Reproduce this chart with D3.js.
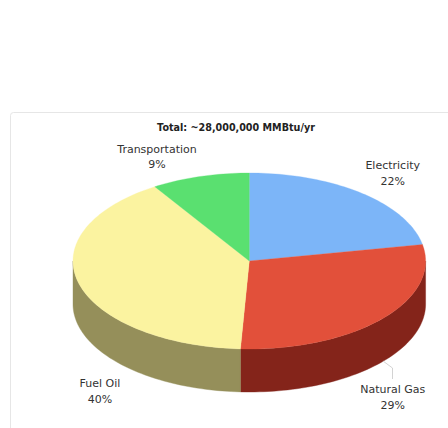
<!DOCTYPE html>
<html><head><meta charset="utf-8">
<script src="https://cdnjs.cloudflare.com/ajax/libs/d3/7.8.5/d3.min.js"></script>
<style>html,body{margin:0;padding:0;background:#fff}svg{display:block}text{font-family:"DejaVu Sans",sans-serif}</style>
</head><body><div id="c"></div>
<script>
const categories = ["Electricity","Natural Gas","Fuel Oil","Transportation"];
const shares = [22,28.8,40.2,9];
const topColors = ["#7cb5f8","#e2503a","#fbf3a0","#5ae070"];
const sideColors = ["#4a6d95","#84241a","#958f5a","#36864a"];
const titleText = "Total: ~28,000,000 MMBtu/yr";
const W=448,H=428,cx=249.3,cy=261,rx=176.3,ry=88,depth=43;
const svg=d3.select("#c").append("svg").attr("width",W).attr("height",H);
svg.append("rect").attr("x",10.5).attr("y",112.5).attr("width",W+20).attr("height",H)
  .attr("rx",3).attr("fill","#fff").attr("stroke","#e6e6e6");
svg.append("text").attr("x",236).attr("y",131).attr("text-anchor","middle")
  .attr("font-size",9.6).attr("font-weight","bold").attr("fill","#222").text(titleText);
const arcs=d3.pie().sort(null)(shares);
const sx=d3.scaleLinear().domain([-1,1]).range([cx-rx,cx+rx]);
const sy=d3.scaleLinear().domain([-1,1]).range([cy-ry,cy+ry]);
const px=a=>sx(Math.sin(a)), py=a=>sy(-Math.cos(a));
const lo=Math.PI/2, hi=1.5*Math.PI;
arcs.forEach((d,i)=>{
  const a0=Math.max(d.startAngle,lo), a1=Math.min(d.endAngle,hi);
  if(a1<=a0) return;
  const ts=d3.range(0,61).map(k=>a0+(a1-a0)*k/60);
  const pts=ts.map(a=>[px(a),py(a)]).concat(ts.slice().reverse().map(a=>[px(a),py(a)+depth]));
  svg.append("path").attr("d",d3.line()(pts)+"Z").attr("fill",sideColors[i]).attr("stroke",sideColors[i]).attr("stroke-width",0.4);
});
arcs.forEach((d,i)=>{
  const n=Math.max(2,Math.ceil((d.endAngle-d.startAngle)*40));
  const pts=[[cx,cy]].concat(d3.range(0,n+1).map(k=>{const a=d.startAngle+(d.endAngle-d.startAngle)*k/n;return [px(a),py(a)];}));
  svg.append("path").attr("d",d3.line()(pts)+"Z").attr("fill",topColors[i]).attr("stroke",topColors[i]).attr("stroke-width",0.3);
});
svg.append("path").attr("d",d3.line()([[383,361],[392.5,368],[392.5,379]])).attr("fill","none").attr("stroke","#c8c8c8").attr("stroke-width",0.8);
const labelAnchors=[[392.7,169,184.5],[392.7,393,408.5],[100,387,402.5],[157,152.5,168]];
arcs.forEach((d,i)=>{
  const [x,y1,y2]=labelAnchors[i];
  const t=svg.append("text").attr("text-anchor","middle").attr("font-size",11).attr("fill","#333");
  t.append("tspan").attr("x",x).attr("y",y1).text(categories[i]);
  t.append("tspan").attr("x",x).attr("y",y2).text(Math.round(shares[i])+"%");
});
</script></body></html>
